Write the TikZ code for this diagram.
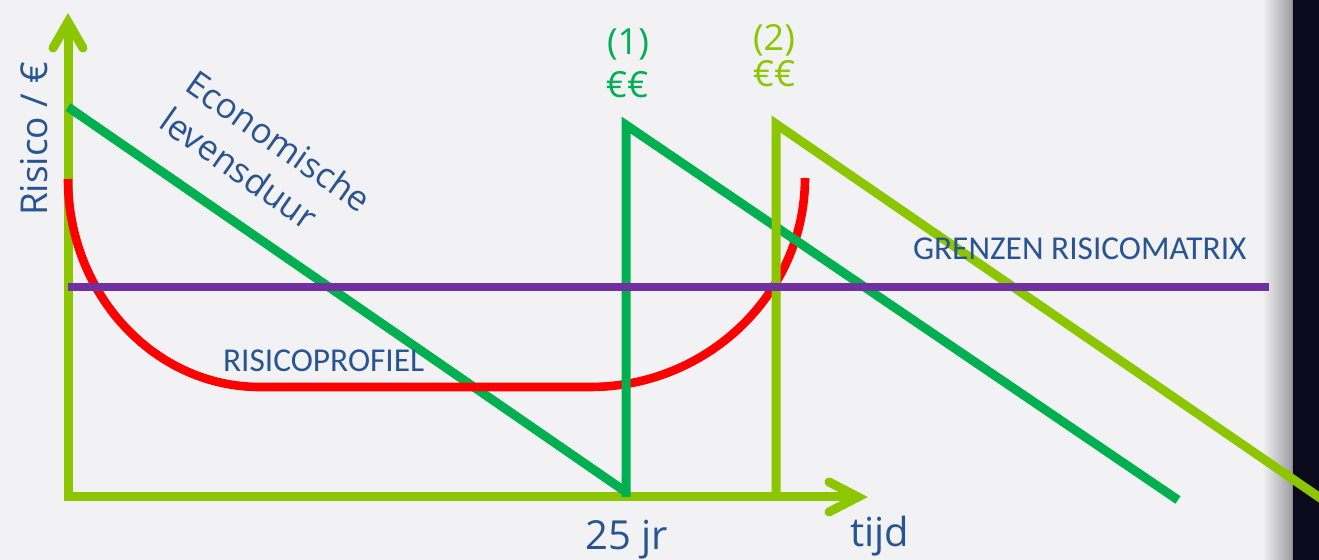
\documentclass[tikz,border=0pt]{standalone}
\usepackage{fontspec}
\setmainfont{Open Sans}
\newfontfamily\capsfont{Carlito}
\definecolor{bg}{RGB}{242,242,245}
\definecolor{darkstrip}{RGB}{11,10,28}
\definecolor{lgreen}{RGB}{140,198,0}
\definecolor{dgreen}{RGB}{0,176,80}
\definecolor{rred}{RGB}{255,0,0}
\definecolor{ppurple}{RGB}{112,48,160}
\definecolor{tblue}{RGB}{40,85,145}
\begin{document}
\begin{tikzpicture}[x=0.5pt,y=-0.5pt,
  axisline/.style={draw=lgreen,line width=4.5pt},
  axishead/.style={draw=lgreen,line width=4.5pt,line cap=round,line join=miter},
  lifeline/.style={line width=4.5pt,line join=miter},
  lbl/.style={text=tblue,inner sep=0pt,outer sep=0pt},
  capslbl/.style={lbl,font=\capsfont\fontsize{16.7}{20}\selectfont},
  econlbl/.style={lbl,font=\fontsize{17.5}{22.5}\selectfont,anchor=base west,rotate=-35},
]
\useasboundingbox (0,0) rectangle (1319,560);
\begin{scope}
\clip (0,0) rectangle (1319,560);
\fill[bg] (0,0) rectangle (1319,560);
\shade[left color=bg,right color=black!35!bg] (1262,0) rectangle (1292,560);
\fill[darkstrip] (1292,0) rectangle (1319,560);
\draw[black!45,line width=0.5pt] (1292.5,0) -- (1292.5,560);

% axes
\coordinate (O) at (68,497);
\coordinate (ytip) at (68,22);
\coordinate (xtip) at (858,497);
\draw[axisline] (68,501) -- (ytip);
\draw[axisline] (64,497) -- (xtip);
\draw[axishead] (53,48) -- (ytip) -- (83,48);
\draw[axishead] (829,482) -- (xtip) -- (829,512);

% first economic life line
\coordinate (g0) at (68,107);
\coordinate (g1) at (626,492);
\draw[dgreen,lifeline] (g0) -- (g1);

% risk profile
\coordinate (r0) at (68,179);
\coordinate (r1) at (260,387);
\coordinate (r2) at (590,387);
\coordinate (r3) at (805,178);
\draw[rred,line width=4.3pt] (r0) .. controls (68,294) and (154,387) .. (r1)
  -- (r2) .. controls (708,387) and (805,293) .. (r3);

% renewal (1)
\coordinate (g2) at (626,497);
\coordinate (g3) at (626,125);
\coordinate (g4) at (1178,500);
\draw[dgreen,lifeline] (g2) -- (g3) -- (g4);

% renewal (2)
\coordinate (h0) at (776,497);
\coordinate (h1) at (776,124);
\coordinate (h2) at (1345,515);
\draw[lgreen,lifeline] (h0) -- (h1) -- (h2);

% risk matrix limit
\coordinate (p0) at (68,287);
\coordinate (p1) at (1269,287);
\draw[ppurple,line width=4pt] (p0) -- (p1);
\end{scope}

% labels
\node[capslbl,anchor=base west] (grenzen) at (913,260) {GRENZEN RISICOMATRIX};
\node[capslbl,anchor=base west] (profiel) at (223,372) {RISICOPROFIEL};
\node[lbl,font=\fontsize{20}{24}\selectfont,anchor=base] (jr) at (627,550) {25 jr};
\node[lbl,font=\fontsize{20}{24}\selectfont,anchor=base] (tijd) at (880,547) {tijd};
\node[lbl,font=\fontsize{18.5}{24}\selectfont,anchor=base,rotate=90] (yl) at (47,139) {Risico / €};
\node[econlbl] (econ1) at (183,90) {Economische};
\node[econlbl] (econ2) at (157,127) {levensduur};
\node[lbl,text=dgreen,font=\fontsize{18}{20}\selectfont] (n1) at (628,45) {(1)};
\node[lbl,text=dgreen,font=\fontsize{18}{20}\selectfont] (e1) at (627,85) {€€};
\node[lbl,text=lgreen,font=\fontsize{18}{20}\selectfont] (n2) at (774,40) {(2)};
\node[lbl,text=lgreen,font=\fontsize{18}{20}\selectfont] (e2) at (774,74) {€€};
\end{tikzpicture}
\end{document}
